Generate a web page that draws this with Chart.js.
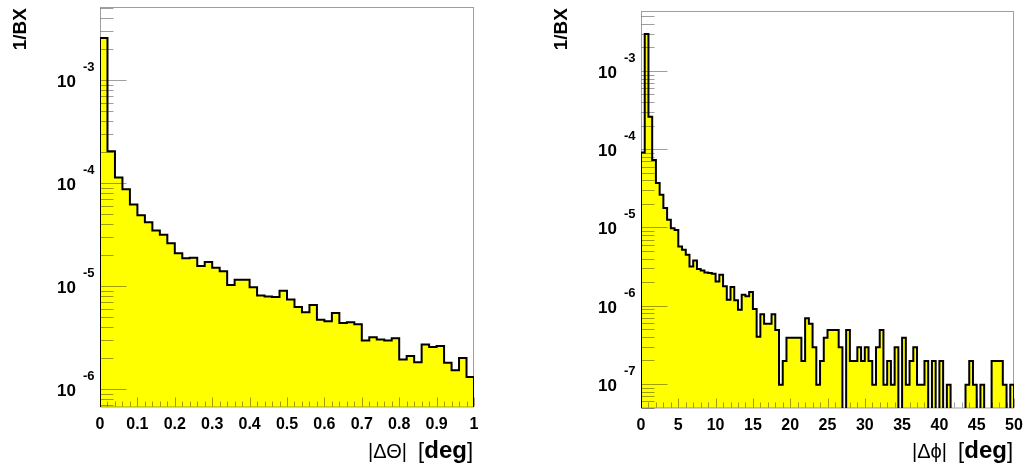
<!DOCTYPE html>
<html>
<head>
<meta charset="utf-8">
<script src="https://cdn.jsdelivr.net/npm/chart.js@4/dist/chart.umd.min.js"></script>
<style>
  body { margin: 0; background: #fff; }
  #wrap { position: relative; width: 1023px; height: 466px; }
  canvas { position: absolute; top: 0; }
  #theta-chart { left: 0; }
  #phi-chart { left: 512px; }
</style>
</head>
<body>
<div id="wrap">
  <canvas id="theta-chart" width="512" height="466"></canvas>
  <canvas id="phi-chart" width="511" height="466"></canvas>
</div>
<script>
// |dTheta| histogram, 50 bins of 0.02 deg
const thetaBinWidth = 0.02;
const thetaValues = [
    2.56e-3, 2.03e-4, 1.13e-4, 8.7e-5, 6.2e-5, 4.85e-5, 4.15e-5, 3.45e-5, 3.15e-5, 2.6e-5,
    2.08e-5, 1.86e-5, 1.88e-5, 1.56e-5, 1.71e-5, 1.50e-5, 1.39e-5, 1.02e-5, 1.15e-5, 1.15e-5,
    9.7e-6, 8.1e-6, 7.9e-6, 7.8e-6, 9.0e-6, 7.4e-6, 6.25e-6, 5.55e-6, 6.55e-6, 4.7e-6,
    4.54e-6, 5.47e-6, 4.37e-6, 4.45e-6, 4.25e-6, 2.95e-6, 3.18e-6, 3.02e-6, 2.95e-6, 3.1e-6,
    1.93e-6, 2.09e-6, 1.82e-6, 2.7e-6, 2.56e-6, 2.61e-6, 1.80e-6, 1.52e-6, 2.0e-6, 1.31e-6
];
const thetaTickLabels = ['0', '0.1', '0.2', '0.3', '0.4', '0.5', '0.6', '0.7', '0.8', '0.9', '1'];
const thetaExponents = [-6, -5, -4, -3];

// |dPhi| histogram, 100 bins of 0.5 deg
const phiBinWidth = 0.5;
const phiValues = [
    9.05e-5, 2.97e-3, 2.6e-4, 7.3e-5, 3.69e-5, 2.62e-5, 1.77e-5, 1.25e-5, 9.8e-6, 9.3e-6,
    5.7e-6, 5.2e-6, 4.48e-6, 3.18e-6, 3.79e-6, 2.94e-6, 2.82e-6, 2.66e-6, 2.61e-6, 2.56e-6,
    2.04e-6, 2.49e-6, 1.77e-6, 1.19e-6, 1.73e-6, 1.17e-6, 8.9e-7, 1.38e-6, 1.32e-6, 1.5e-6,
    9.1e-7, 4.0e-7, 7.8e-7, 5.9e-7, 5.9e-7, 7.8e-7, 4.9e-7, 9.8e-8, 1.96e-7, 3.9e-7,
    3.9e-7, 3.9e-7, 3.9e-7, 1.96e-7, 6.9e-7, 5.9e-7, 2.94e-7, 9.8e-8, 1.96e-7, 3.9e-7,
    4.9e-7, 4.9e-7, 4.9e-7, 2.94e-7, 0, 4.9e-7, 1.96e-7, 1.96e-7, 2.94e-7, 1.96e-7,
    2.94e-7, 1.96e-7, 9.8e-8, 2.94e-7, 4.9e-7, 9.8e-8, 1.96e-7, 9.8e-8, 2.94e-7, 0,
    3.9e-7, 9.8e-8, 1.96e-7, 2.94e-7, 9.8e-8, 9.8e-8, 1.96e-7, 0, 1.96e-7, 0,
    1.96e-7, 0, 9.8e-8, 0, 0, 0, 0, 9.8e-8, 1.96e-7, 9.8e-8,
    0, 9.8e-8, 0, 0, 1.96e-7, 1.96e-7, 1.96e-7, 9.8e-8, 0, 9.8e-8
];
const phiTickLabels = ['0', '5', '10', '15', '20', '25', '30', '35', '40', '45', '50'];
const phiExponents = [-7, -6, -5, -4, -3];

const FONT = '"Liberation Sans", Arial, Helvetica, sans-serif';
const TICK_COLOR = 'rgba(0, 0, 0, 0.38)';

// turn bin contents into step points, empty bins drop below the frame
function histPoints(values, width, floor) {
    const pts = [{ x: 0, y: floor }];
    values.forEach((v, i) => pts.push({ x: i * width, y: v > 0 ? v : floor }));
    const last = values[values.length - 1];
    pts.push({ x: values.length * width, y: last > 0 ? last : floor });
    pts.push({ x: values.length * width, y: floor });
    return pts;
}

// ROOT-like frame: inner ticks, 10^n labels, titles
const rootFrame = {
    id: 'rootFrame',
    afterDatasetsDraw(chart, args, opts) {
        const { ctx, chartArea: a, scales: { x, y } } = chart;
        const left = Math.round(a.left) + 0.5;
        const bottom = Math.round(a.bottom) - 0.5;
        ctx.save();
        ctx.strokeStyle = TICK_COLOR;
        ctx.lineWidth = 1;
        ctx.strokeRect(left, Math.round(a.top) + 0.5, Math.round(a.right) - Math.round(a.left) - 1, bottom - Math.round(a.top));

        // log y ticks
        ctx.beginPath();
        for (let k = opts.exponents[0] - 1; k <= opts.exponents[opts.exponents.length - 1]; k++) {
            for (let m = 1; m <= 9; m++) {
                const v = m * Math.pow(10, k);
                if (v < y.min || v > y.max) continue;
                const p = Math.round(y.getPixelForValue(v)) + 0.5;
                ctx.moveTo(left, p);
                ctx.lineTo(left + (m === 1 ? 26 : 13), p);
            }
        }
        // x ticks
        const n = Math.round((x.max - x.min) / opts.xMinor);
        for (let i = 0; i <= n; i++) {
            const p = Math.round(x.getPixelForValue(x.min + i * opts.xMinor)) + 0.5;
            ctx.moveTo(p, bottom);
            ctx.lineTo(p, bottom - (i % opts.xMajorEvery === 0 ? 9 : 5));
        }
        ctx.stroke();

        ctx.fillStyle = '#000';
        // x tick labels
        ctx.font = 'bold 16px ' + FONT;
        ctx.textAlign = 'center';
        ctx.textBaseline = 'alphabetic';
        opts.tickLabels.forEach(t => {
            ctx.fillText(t, x.getPixelForValue(parseFloat(t)), a.bottom + 22);
        });

        // y labels as 10^n
        opts.exponents.forEach(e => {
            const p = y.getPixelForValue(Math.pow(10, e));
            ctx.font = 'bold 17px ' + FONT;
            ctx.textAlign = 'right';
            ctx.fillText('10', a.left - 24, p + 7);
            ctx.font = 'bold 13px ' + FONT;
            ctx.textAlign = 'left';
            ctx.fillText(String(e), a.left - 17, p - 9);
        });

        // y title
        ctx.save();
        ctx.translate(a.left - 79, 8);
        ctx.rotate(-Math.PI / 2);
        ctx.font = 'bold 19px ' + FONT;
        ctx.textAlign = 'right';
        ctx.textBaseline = 'middle';
        ctx.fillText('1/BX', 0, 0);
        ctx.restore();

        // x title, drawn right to left
        let xr = a.right - 1;
        ctx.textAlign = 'right';
        const parts = [
            [']', '22px'],
            ['deg', 'bold 24px'],
            ['[', '22px'],
            [opts.xVar + '  ', '20px']
        ];
        parts.forEach(([txt, f]) => {
            ctx.font = f + ' ' + FONT;
            ctx.fillText(txt, xr, 458);
            xr -= ctx.measureText(txt).width;
        });
        ctx.restore();
    }
};

function makeChart(id, values, binWidth, xMax, yMin, yMax, padding, frameOpts) {
    const floor = yMin / 1000;
    return new Chart(document.getElementById(id), {
        type: 'line',
        data: {
            datasets: [{
                data: histPoints(values, binWidth, floor),
                stepped: true,
                borderColor: '#000',
                borderWidth: 2,
                backgroundColor: '#ffff00',
                fill: 'start',
                pointRadius: 0,
                tension: 0
            }]
        },
        options: {
            responsive: false,
            animation: false,
            layout: { padding: padding },
            scales: {
                x: { type: 'linear', min: 0, max: xMax, display: false },
                y: { type: 'logarithmic', min: yMin, max: yMax, display: false }
            },
            plugins: {
                legend: { display: false },
                tooltip: { enabled: false },
                rootFrame: frameOpts
            }
        },
        plugins: [rootFrame]
    });
}

makeChart('theta-chart', thetaValues, thetaBinWidth, 1, 6.68e-7, 5.12e-3,
    { left: 100, top: 7, right: 38, bottom: 59 },
    { tickLabels: thetaTickLabels, exponents: thetaExponents, xMinor: 0.02, xMajorEvery: 5, xVar: '|\u0394\u0398|' });

makeChart('phi-chart', phiValues, phiBinWidth, 50, 4.93e-8, 5.83e-3,
    { left: 129, top: 11, right: 9, bottom: 58 },
    { tickLabels: phiTickLabels, exponents: phiExponents, xMinor: 1, xMajorEvery: 5, xVar: '|\u0394\u03d5|' });
</script>
</body>
</html>
